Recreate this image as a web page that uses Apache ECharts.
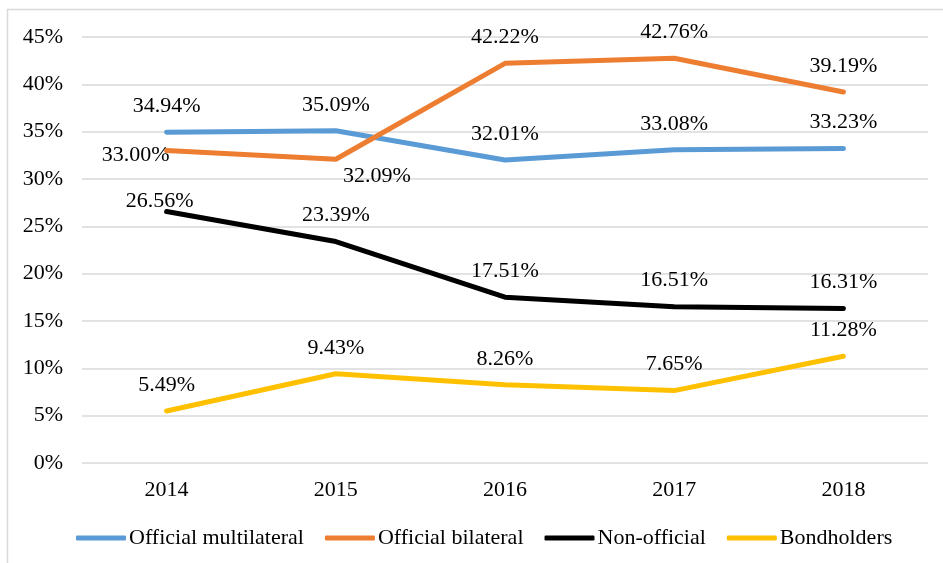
<!DOCTYPE html>
<html>
<head>
<meta charset="utf-8">
<script src="https://cdn.jsdelivr.net/npm/echarts@6/dist/echarts.min.js"></script>
<style>
  html, body { margin: 0; padding: 0; background: #fff; }
  #chart { width: 943px; height: 563px; }
</style>
</head>
<body>
<div id="chart"></div>
<script>
// data
var years = ['2014', '2015', '2016', '2017', '2018']
var multilateral = [34.94, 35.09, 32.01, 33.08, 33.23]
var bilateral = [33.00, 32.09, 42.22, 42.76, 39.19]
var nonOfficial = [26.56, 23.39, 17.51, 16.51, 16.31]
var bondholders = [5.49, 9.43, 8.26, 7.65, 11.28]

var FONT = 'Liberation Serif, Times New Roman, serif'
var FS = 22

// a few labels sit off the default spot (moved by hand in the original)
var labelShift = {
  'Official bilateral': { 0: [-31, 31], 1: [41, 43] },
  'Non-official': { 0: [-7, 16] }
}

function makeSeries(name, values, color) {
  var shifts = labelShift[name] || {}
  return {
    name: name,
    type: 'line',
    symbol: 'circle',
    symbolSize: 0,
    showSymbol: true,
    lineStyle: { width: 5, color: color, cap: 'round' },
    itemStyle: { color: color },
    label: {
      show: true,
      position: 'top',
      distance: 15,
      color: '#000',
      fontFamily: FONT,
      fontSize: FS,
      formatter: function(p) {
        return p.value.toFixed(2) + '%'
      }
    },
    data: values.map(function(v, i) {
      if (shifts[i]) {
        return { value: v, label: { offset: shifts[i] } }
      }
      return v
    })
  }
}

var chart = echarts.init(document.getElementById('chart'))
chart.setOption({
  animation: false,
  backgroundColor: '#fff',
  graphic: [{
    type: 'rect',
    shape: { x: 7.5, y: 9.5, width: 980, height: 600 },
    style: { fill: 'none', stroke: '#d9d9d9', lineWidth: 1.5 },
    silent: true
  }],
  grid: { left: 82, right: 15, top: 37, bottom: 100 },
  legend: {
    bottom: 9,
    left: 71,
    icon: 'roundRect',
    itemWidth: 50,
    itemHeight: 5,
    itemGap: 21,
    textStyle: { color: '#000', fontFamily: FONT, fontSize: FS, padding: [0, 0, 0, -2] }
  },
  xAxis: {
    type: 'category',
    data: years,
    boundaryGap: true,
    axisLine: { show: false },
    axisTick: { show: false },
    axisLabel: { color: '#000', fontFamily: FONT, fontSize: FS, margin: 16 }
  },
  yAxis: {
    type: 'value',
    min: 0,
    max: 45,
    interval: 5,
    axisLine: { show: false },
    axisTick: { show: false },
    splitLine: { lineStyle: { color: '#d9d9d9', width: 1.5 } },
    axisLabel: {
      color: '#000',
      fontFamily: FONT,
      fontSize: FS,
      margin: 19,
      formatter: '{value}%'
    }
  },
  series: [
    makeSeries('Official multilateral', multilateral, '#5B9BD5'),
    makeSeries('Official bilateral', bilateral, '#ED7D31'),
    makeSeries('Non-official', nonOfficial, '#000000'),
    makeSeries('Bondholders', bondholders, '#FFC000')
  ]
})
</script>
</body>
</html>
